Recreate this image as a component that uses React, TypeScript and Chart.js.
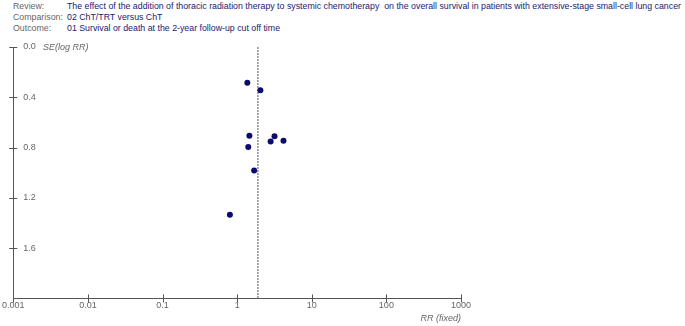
import React, { useEffect, useRef } from "react";
import { Chart, registerables } from "chart.js";

Chart.register(...registerables);

const headerLabels = ["Review:", "Comparison:", "Outcome:"];
const headerValues = [
  "The effect of the addition of thoracic radiation therapy to systemic chemotherapy  on the overall survival in patients with extensive-stage small-cell lung cancer",
  "02 ChT/TRT versus ChT",
  "01 Survival or death at the 2-year follow-up cut off time",
];
const studyRR = [1.37, 2.05, 1.46, 3.17, 4.18, 2.81, 1.41, 1.69, 0.8];
const studySE = [0.285, 0.345, 0.706, 0.711, 0.745, 0.751, 0.796, 0.983, 1.334];
const pooledRR = 1.9;
const xTicks = [0.001, 0.01, 0.1, 1, 10, 100, 1000];
const yTicks = [0, 0.4, 0.8, 1.2, 1.6];

const AXIS = "#555";
const FONT = "'Liberation Sans', Arial, sans-serif";

const overlay = {
  id: "overlay",
  afterDraw(chart: any) {
    const ctx = chart.ctx;
    const xs = chart.scales.x;
    const ys = chart.scales.y;
    const ca = chart.chartArea;
    ctx.save();
    ctx.strokeStyle = AXIS;
    ctx.lineWidth = 1;
    ctx.beginPath();
    for (const v of xTicks) {
      const px = Math.round(xs.getPixelForValue(v)) + 0.5;
      ctx.moveTo(px, ca.bottom - 4);
      ctx.lineTo(px, ca.bottom + 4);
    }
    for (const v of yTicks) {
      const py = Math.round(ys.getPixelForValue(v)) + 0.5;
      ctx.moveTo(ca.left - 4, py);
      ctx.lineTo(ca.left + 4, py);
    }
    ctx.stroke();
    ctx.fillStyle = "#666";
    ctx.font = `italic 9px ${FONT}`;
    ctx.textBaseline = "middle";
    ctx.textAlign = "left";
    ctx.fillText("SE(log RR)", 43, ys.getPixelForValue(0));
    ctx.restore();
  },
};

export default function App() {
  const ref = useRef<HTMLCanvasElement>(null);
  useEffect(() => {
    if (!ref.current) return;
    const chart = new Chart(ref.current, {
      type: "scatter",
      data: {
        datasets: [
          {
            label: "studies",
            data: studyRR.map((rr, i) => ({ x: rr, y: studySE[i] })),
            backgroundColor: "#0b0b70",
            borderColor: "#0b0b70",
            pointRadius: 3,
            pointBorderWidth: 0,
          },
          {
            label: "pooled",
            type: "line",
            data: [
              { x: pooledRR, y: 0 },
              { x: pooledRR, y: 2 },
            ],
            borderColor: "#555",
            borderWidth: 1,
            borderDash: [2, 1],
            pointRadius: 0,
          } as any,
        ],
      },
      options: {
        animation: false,
        responsive: false,
        layout: { padding: { top: 47, left: 0, right: 224, bottom: 0 } },
        plugins: { legend: { display: false }, tooltip: { enabled: false } },
        scales: {
          x: {
            type: "logarithmic",
            min: 0.001,
            max: 1000,
            afterBuildTicks: (s: any) => {
              s.ticks = xTicks.map((v) => ({ value: v }));
            },
            ticks: {
              autoSkip: false,
              maxRotation: 0,
              color: "#666",
              font: { family: FONT, size: 9 },
              padding: 2,
              callback: (v: any) => String(v),
            },
            grid: { display: false, drawTicks: false },
            border: { color: AXIS, width: 1 },
            title: {
              display: true,
              text: "RR (fixed)",
              align: "end",
              color: "#666",
              font: { family: FONT, size: 9, style: "italic" },
              padding: { top: 0, bottom: 2 },
            },
          },
          y: {
            type: "linear",
            reverse: true,
            min: 0,
            max: 2,
            afterBuildTicks: (s: any) => {
              s.ticks = yTicks.map((v) => ({ value: v }));
            },
            afterFit: (s: any) => {
              s.width = 11;
            },
            ticks: {
              mirror: true,
              padding: 10,
              color: "#666",
              font: { family: FONT, size: 9 },
              callback: (v: any) => Number(v).toFixed(1),
            },
            grid: { display: false, drawTicks: false },
            border: { color: AXIS, width: 1 },
          },
        },
      },
      plugins: [overlay],
    });
    return () => chart.destroy();
  }, []);

  return (
    <div style={{ position: "fixed", left: 0, top: 0, width: 685, height: 326, background: "#fff", overflow: "hidden" }}>
      {headerLabels.map((lab, i) => (
        <div
          key={lab}
          style={{
            position: "absolute",
            top: 1 + i * 11,
            left: 13,
            font: `8.8px ${FONT}`,
            lineHeight: "11px",
            whiteSpace: "pre",
          }}
        >
          <span style={{ color: "#666" }}>{lab}</span>
          <span style={{ position: "absolute", left: 54, top: 0, color: "#1a1a70" }}>{headerValues[i]}</span>
        </div>
      ))}
      <canvas ref={ref} width={685} height={326} style={{ position: "absolute", left: 0, top: 0 }} />
    </div>
  );
}
